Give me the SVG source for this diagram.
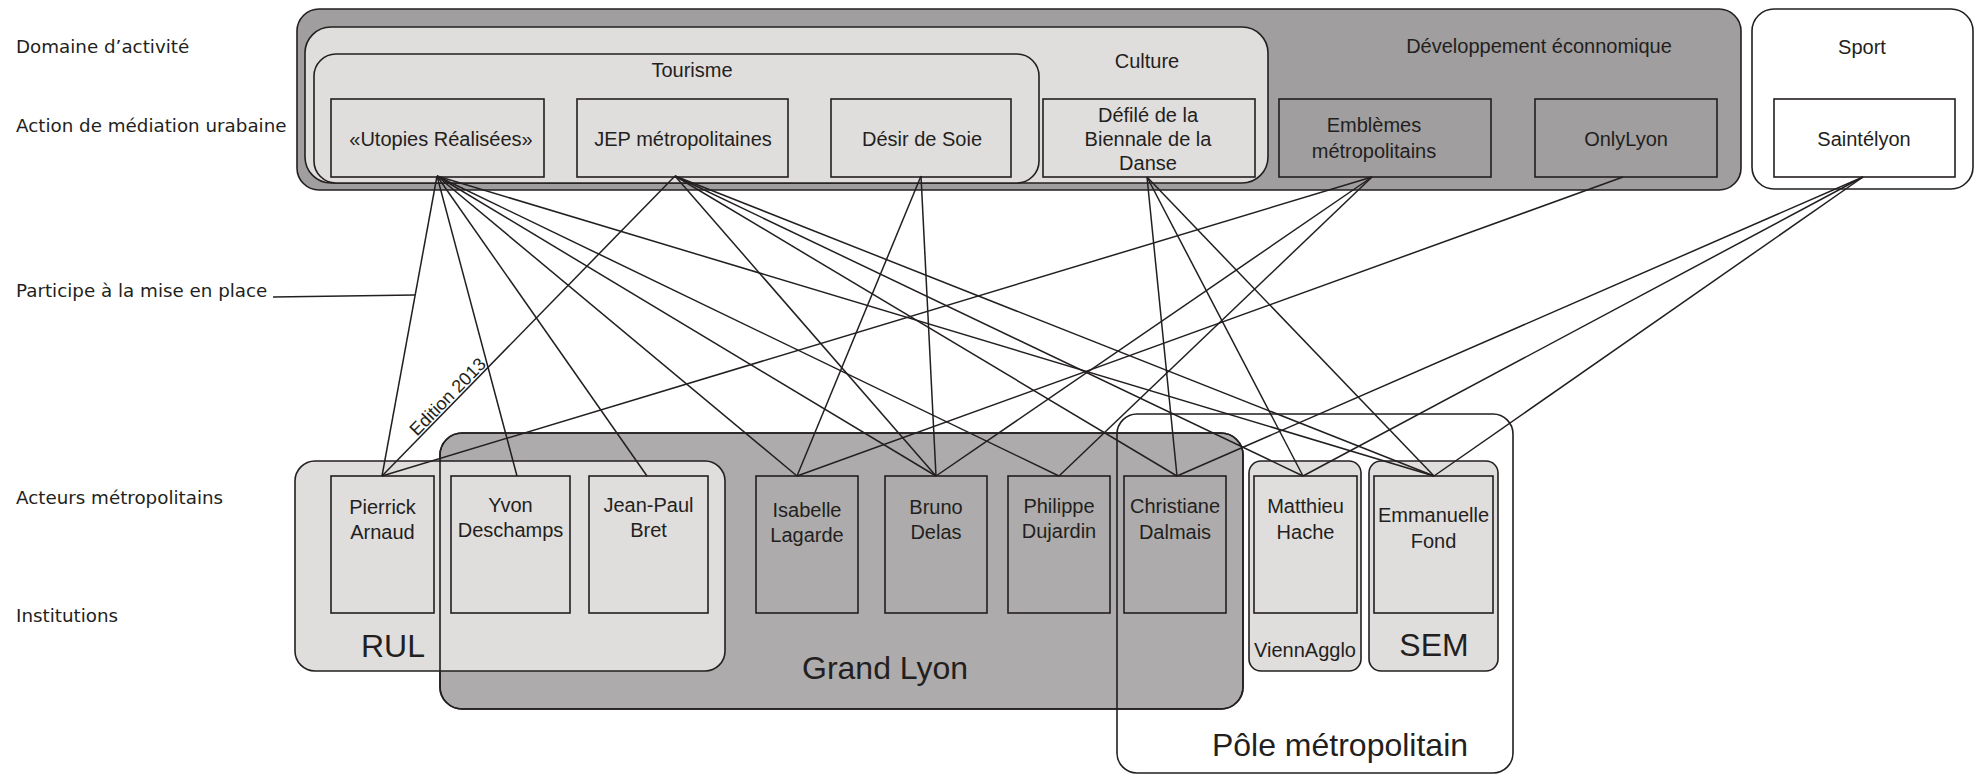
<svg xmlns="http://www.w3.org/2000/svg" width="1975" height="776" viewBox="0 0 1975 776">
<style>
.lbl{font-family:"DejaVu Sans",Verdana,sans-serif;font-size:18.3px;fill:#231f20}
.t{font-family:"Liberation Sans",Arial,sans-serif;font-size:20px;fill:#231f20;text-anchor:middle}
.big{font-family:"Liberation Sans",Arial,sans-serif;font-size:32px;fill:#231f20;text-anchor:middle}
.dark{fill:#a09e9e;stroke:#231f20;stroke-width:1.6}
.mid{fill:#adabab;stroke:#231f20;stroke-width:1.6}
.light{fill:#e0dddd;stroke:#231f20;stroke-width:1.6}
.white{fill:#ffffff;stroke:#231f20;stroke-width:1.6}
.none{fill:none;stroke:#231f20;stroke-width:1.6}
.conn line{stroke:#231f20;stroke-width:1.5}
</style>

<g id="labels">
<text class="lbl" x="16" y="53">Domaine d’activité</text>
<text class="lbl" x="16" y="132">Action de médiation urabaine</text>
<text class="lbl" x="16" y="297">Participe à la mise en place</text>
<text class="lbl" x="16" y="504">Acteurs métropolitains</text>
<text class="lbl" x="16" y="622">Institutions</text>
</g>

<g id="domaine-economique">
<rect class="dark" x="297" y="9" width="1444" height="181" rx="22"/>
<text class="t" x="1539" y="53">Développement éconnomique</text>
</g>
<g id="domaine-culture">
<rect class="light" x="305" y="27" width="963" height="156" rx="26"/>
<text class="t" x="1147" y="68">Culture</text>
</g>
<g id="domaine-tourisme">
<rect class="light" x="314" y="54" width="725" height="129" rx="22"/>
<text class="t" x="692" y="77">Tourisme</text>
</g>
<g id="domaine-sport">
<rect class="white" x="1752" y="9" width="221" height="180" rx="22"/>
<text class="t" x="1862" y="54">Sport</text>
</g>

<g id="action-utopies">
<rect class="light" x="331" y="99" width="213" height="78"/>
<text class="t" x="441" y="146">«Utopies Réalisées»</text>
</g>
<g id="action-jep">
<rect class="light" x="577" y="99" width="211" height="78"/>
<text class="t" x="683" y="146">JEP métropolitaines</text>
</g>
<g id="action-desir">
<rect class="light" x="831" y="99" width="180" height="78"/>
<text class="t" x="922" y="146">Désir de Soie</text>
</g>
<g id="action-defile">
<rect class="light" x="1043" y="99" width="212" height="78"/>
<text class="t" x="1148" y="122">Défilé de la</text>
<text class="t" x="1148" y="146">Biennale de la</text>
<text class="t" x="1148" y="170">Danse</text>
</g>
<g id="action-emblemes">
<rect class="dark" x="1279" y="99" width="212" height="78"/>
<text class="t" x="1374" y="132">Emblèmes</text>
<text class="t" x="1374" y="158">métropolitains</text>
</g>
<g id="action-onlylyon">
<rect class="dark" x="1535" y="99" width="182" height="78"/>
<text class="t" x="1626" y="146">OnlyLyon</text>
</g>
<g id="action-saintelyon">
<rect class="white" x="1774" y="99" width="181" height="78"/>
<text class="t" x="1864" y="146">Saintélyon</text>
</g>

<g id="inst-grandlyon">
<rect class="mid" x="440" y="433" width="803" height="276" rx="22"/>
<text class="big" x="885" y="679" font-size="34">Grand Lyon</text>
</g>
<g id="inst-rul">
<rect class="light" x="295" y="461" width="430" height="210" rx="20"/>
<text class="big" x="393" y="657">RUL</text>
</g>
<rect class="none" x="440" y="433" width="803" height="276" rx="22"/>
<g id="inst-viennagglo">
<rect class="light" x="1249" y="461" width="112" height="210" rx="12"/>
<text class="t" x="1305" y="657">ViennAgglo</text>
</g>
<g id="inst-sem">
<rect class="light" x="1369" y="461" width="129" height="210" rx="12"/>
<text class="big" x="1434" y="656">SEM</text>
</g>
<g id="inst-pole">
<rect class="none" x="1117" y="414" width="396" height="359" rx="20"/>
<text class="big" x="1340" y="756" font-size="35">Pôle métropolitain</text>
</g>

<g id="acteur-arnaud">
<rect class="light" x="331" y="476" width="103" height="137"/>
<text class="t" x="382.5" y="514">Pierrick</text>
<text class="t" x="382.5" y="539">Arnaud</text>
</g>
<g id="acteur-deschamps">
<rect class="light" x="451" y="476" width="119" height="137"/>
<text class="t" x="510.5" y="512">Yvon</text>
<text class="t" x="510.5" y="537">Deschamps</text>
</g>
<g id="acteur-bret">
<rect class="light" x="589" y="476" width="119" height="137"/>
<text class="t" x="648.5" y="512">Jean-Paul</text>
<text class="t" x="648.5" y="537">Bret</text>
</g>
<g id="acteur-lagarde">
<rect class="mid" x="756" y="476" width="102" height="137"/>
<text class="t" x="807" y="517">Isabelle</text>
<text class="t" x="807" y="542">Lagarde</text>
</g>
<g id="acteur-delas">
<rect class="mid" x="885" y="476" width="102" height="137"/>
<text class="t" x="936" y="514">Bruno</text>
<text class="t" x="936" y="539">Delas</text>
</g>
<g id="acteur-dujardin">
<rect class="mid" x="1008" y="476" width="102" height="137"/>
<text class="t" x="1059" y="513">Philippe</text>
<text class="t" x="1059" y="538">Dujardin</text>
</g>
<g id="acteur-dalmais">
<rect class="mid" x="1124" y="476" width="102" height="137"/>
<text class="t" x="1175" y="513">Christiane</text>
<text class="t" x="1175" y="539">Dalmais</text>
</g>
<g id="acteur-hache">
<rect class="light" x="1254" y="476" width="103" height="137"/>
<text class="t" x="1305.5" y="513">Matthieu</text>
<text class="t" x="1305.5" y="539">Hache</text>
</g>
<g id="acteur-fond">
<rect class="light" x="1374" y="476" width="119" height="137"/>
<text class="t" x="1433.5" y="522">Emmanuelle</text>
<text class="t" x="1433.5" y="548">Fond</text>
</g>

<g id="connectors" class="conn">
<line x1="273" y1="297" x2="415" y2="295" stroke-width="1"/>
<line x1="437" y1="176" x2="382" y2="476"/>
<line x1="437" y1="176" x2="517" y2="476"/>
<line x1="437" y1="176" x2="647" y2="476"/>
<line x1="437" y1="176" x2="797" y2="476"/>
<line x1="437" y1="176" x2="936" y2="476"/>
<line x1="437" y1="176" x2="1059" y2="476"/>
<line x1="437" y1="176" x2="1434" y2="476"/>
<line x1="675" y1="176" x2="382" y2="476"/>
<line x1="675" y1="176" x2="936" y2="476"/>
<line x1="675" y1="176" x2="1177" y2="476"/>
<line x1="675" y1="176" x2="1303" y2="476"/>
<line x1="675" y1="176" x2="1434" y2="476"/>
<line x1="921" y1="176" x2="797" y2="476"/>
<line x1="921" y1="176" x2="936" y2="476"/>
<line x1="1147" y1="177" x2="1177" y2="476"/>
<line x1="1147" y1="177" x2="1303" y2="476"/>
<line x1="1147" y1="177" x2="1434" y2="476"/>
<line x1="1372" y1="177" x2="382" y2="476"/>
<line x1="1372" y1="177" x2="936" y2="476"/>
<line x1="1372" y1="177" x2="1059" y2="476"/>
<line x1="1623" y1="177" x2="797" y2="476"/>
<line x1="1863" y1="177" x2="1177" y2="476"/>
<line x1="1863" y1="177" x2="1303" y2="476"/>
<line x1="1863" y1="177" x2="1434" y2="476"/>
<text x="452" y="401" transform="rotate(-45.67 452 401)" font-family="Liberation Sans, Arial, sans-serif" font-size="18" fill="#231f20" text-anchor="middle">Edition 2013</text>
</g>
</svg>
